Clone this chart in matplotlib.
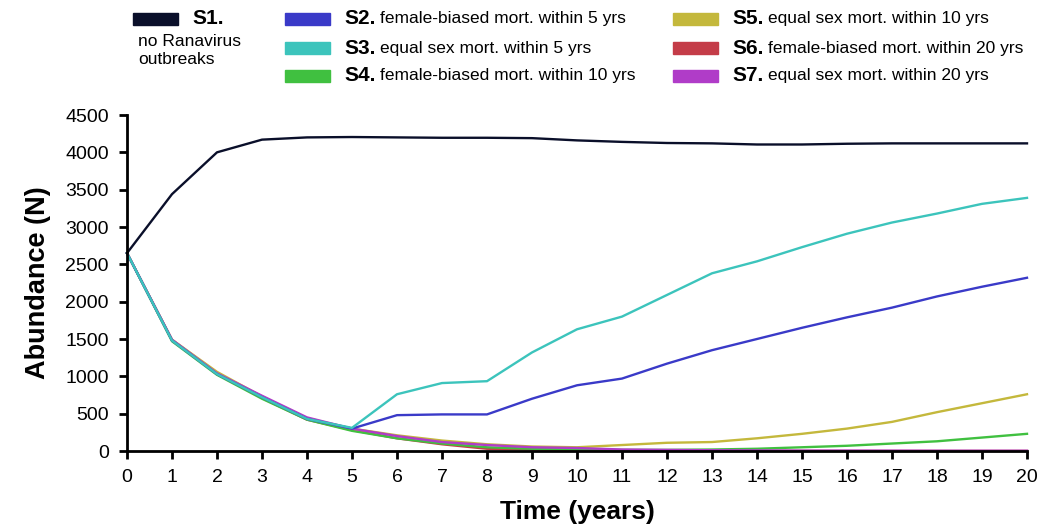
"""Ranavirus outbreak scenarios: abundance over 20 years."""

import numpy as np
import matplotlib
matplotlib.use('Agg')
import matplotlib.pyplot as plt
from matplotlib.patches import Rectangle

plt.rcParams['font.family'] = ['Liberation Sans', 'DejaVu Sans']

years = list(range(21))

s1 = [2650, 3440, 4000, 4170, 4200, 4205, 4200, 4195, 4195, 4190, 4160,
      4140, 4125, 4120, 4105, 4105, 4115, 4120, 4120, 4120, 4120]
s2 = [2650, 1480, 1030, 720, 430, 300, 480, 490, 490, 700, 880,
      970, 1170, 1350, 1500, 1650, 1790, 1920, 2070, 2200, 2320]
s3 = [2650, 1480, 1030, 720, 430, 310, 760, 910, 935, 1320, 1630,
      1800, 2090, 2380, 2540, 2730, 2910, 3060, 3180, 3310, 3390]
s4 = [2650, 1470, 1020, 700, 420, 270, 170, 100, 50, 30, 20,
      15, 15, 20, 30, 50, 70, 100, 130, 180, 230]
s5 = [2650, 1490, 1060, 730, 440, 300, 210, 140, 90, 60, 50,
      80, 110, 120, 170, 230, 300, 390, 520, 640, 760]
s6 = [2650, 1490, 1040, 710, 420, 280, 170, 90, 30, 20, 10,
      5, 5, 3, 2, 2, 1, 1, 1, 1, 1]
s7 = [2650, 1490, 1040, 740, 450, 300, 200, 120, 80, 50, 40,
      20, 15, 10, 8, 5, 5, 4, 3, 3, 3]

series = [s1, s2, s3, s4, s5, s6, s7]
codes = ['S1.', 'S2.', 'S3.', 'S4.', 'S5.', 'S6.', 'S7.']
descs = ['', 'female-biased mort. within 5 yrs', 'equal sex mort. within 5 yrs',
         'female-biased mort. within 10 yrs', 'equal sex mort. within 10 yrs',
         'female-biased mort. within 20 yrs', 'equal sex mort. within 20 yrs']
colors = ['#0a0f2a', '#3a3ac8', '#3cc4bc', '#40c040', '#c4b83c', '#c43c48', '#b03cc8']

W, H = 1046, 532
fig = plt.figure(figsize=(W / 100, H / 100), dpi=100)
ax = fig.add_axes([127 / W, 1 - 451 / H, 900 / W, 336 / H])

# draw order: declining lines first, S1-S3 on top
order = [5, 3, 4, 6, 1, 2, 0]
for i in order:
    ax.plot(years, series[i], color=colors[i], lw=1.7, clip_on=False)

ax.set_xlim(0, 20)
ax.set_ylim(0, 4500)
ax.set_xticks(range(0, 21))
ax.set_yticks(range(0, 4501, 500))
ax.spines[['top', 'right']].set_visible(False)
for s in ['left', 'bottom']:
    ax.spines[s].set_linewidth(2)
ax.tick_params(direction='out', length=6, width=2, labelsize=14, pad=7)
ax.set_xlabel('Time (years)', fontsize=19, fontweight='bold', labelpad=10)
ax.set_ylabel('Abundance (N)', fontsize=19.5, fontweight='bold', labelpad=10)

# custom legend at top, positioned in pixels
renderer = fig.canvas.get_renderer()
col_x = [133, 285, 673]
row_y = [19, 48, 76]
slots = [(0, 0), (1, 0), (1, 1), (1, 2), (2, 0), (2, 1), (2, 2)]
for i, (c, r) in enumerate(slots):
    x0, yc = col_x[c], row_y[r]
    fig.patches.append(Rectangle((x0 / W, 1 - (yc + 6) / H), 45 / W, 12 / H,
                                 transform=fig.transFigure, color=colors[i]))
    t = fig.text((x0 + 59) / W, 1 - yc / H, codes[i], fontsize=15,
                 fontweight='bold', va='center', ha='left')
    if descs[i]:
        bb = t.get_window_extent(renderer)
        fig.text(bb.x1 / W + 5 / W, 1 - yc / H, descs[i], fontsize=12.5,
                 va='center', ha='left')

fig.text(138 / W, 1 - 41 / H, 'no Ranavirus', fontsize=12.5, va='center', ha='left')
fig.text(138 / W, 1 - 60 / H, 'outbreaks', fontsize=12.5, va='center', ha='left')

fig.savefig('out.png', dpi=100)
